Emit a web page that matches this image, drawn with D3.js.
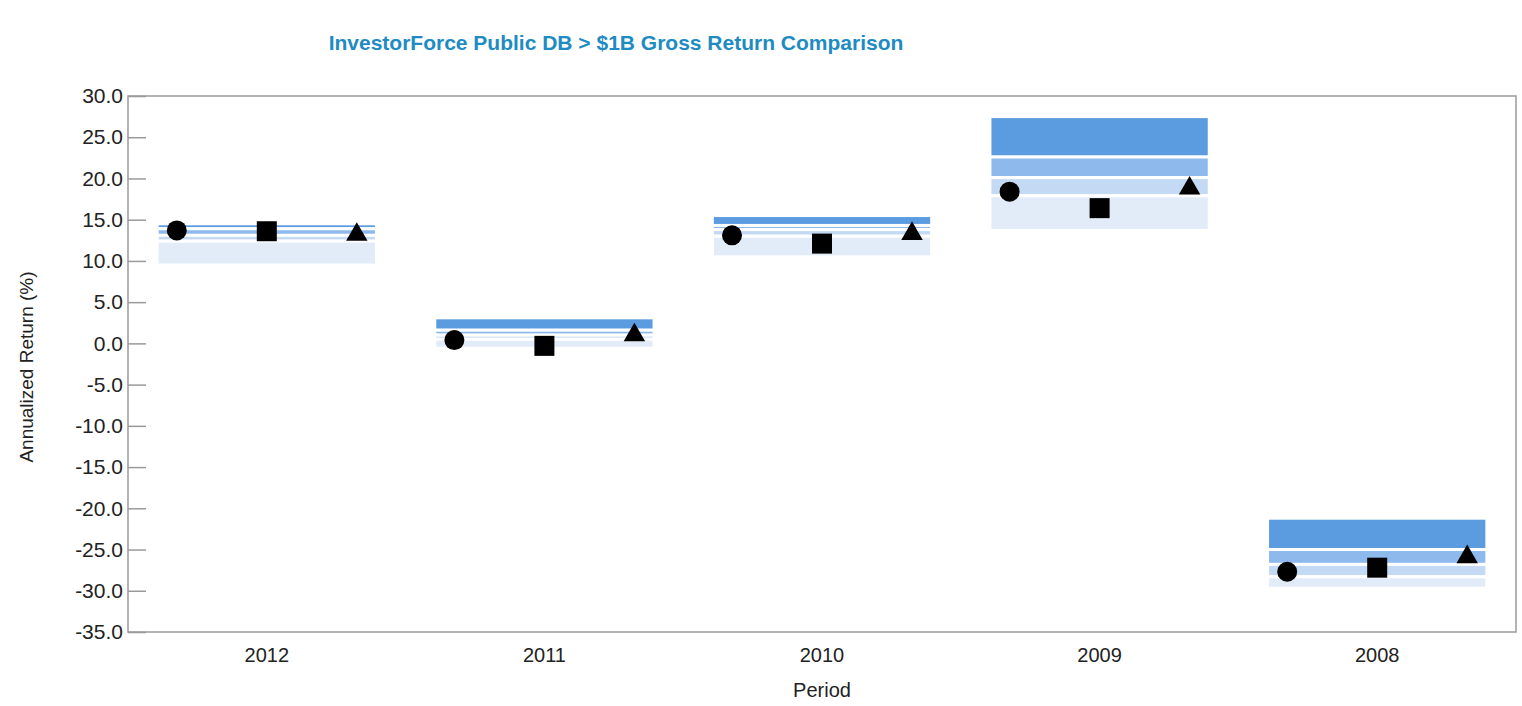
<!DOCTYPE html>
<html><head><meta charset="utf-8">
<script src="https://cdn.jsdelivr.net/npm/d3@7"></script>
<style>
body{margin:0;background:#fff;}
text{font-family:"Liberation Sans",Arial,sans-serif;}
</style></head>
<body><svg id="c" width="1522" height="706"></svg>
<script>
const periods = ["2012","2011","2010","2009","2008"];
const p5  = [14.5, 3.1, 15.5, 27.5, -21.2];
const p25 = [13.9, 1.6, 14.3, 22.6, -25.0];
const p50 = [13.1, 1.0, 13.8, 20.1, -26.8];
const p75 = [12.4, 0.5, 13.0, 17.9, -28.3];
const p95 = [9.5, -0.6, 10.5, 13.7, -29.7];
const circleVals   = [13.7, 0.4, 13.1, 18.4, -27.7];
const squareVals   = [13.6, -0.3, 12.1, 16.4, -27.2];
const triangleVals = [13.2, 1.0, 13.3, 18.8, -25.9];
const yTicks = [30,25,20,15,10,5,0,-5,-10,-15,-20,-25,-30,-35];
const bandColors = ["#5B9BDF","#8DB9EC","#C3D9F4","#E2ECF9"];

const svg = d3.select("#c");
const L=128, R=1516, T=96, B=632;
const x = d3.scaleBand().domain(periods).range([L,R]).paddingInner(0.21).paddingOuter(0.105);
const xc = d3.scaleBand().domain(periods).range([L,R]);
const y = d3.scaleLinear().domain([-35,30]).range([B,T]);
const fmt = v => d3.format(".1f")(v).replace("\u2212","-");

// title
svg.append("text").attr("x",616).attr("y",50).attr("text-anchor","middle")
  .attr("font-size",21).attr("font-weight","bold").attr("fill","#1E8BC3")
  .text("InvestorForce Public DB > $1B Gross Return Comparison");

// frame
svg.append("rect").attr("x",L).attr("y",T).attr("width",R-L).attr("height",B-T)
  .attr("fill","none").attr("stroke","#9a9a9a").attr("stroke-width",1.5);

// y axis
const yAxis = d3.axisLeft(y).tickValues(yTicks).tickFormat(fmt).tickSizeInner(-18).tickSizeOuter(0).tickPadding(5);
const gy = svg.append("g").attr("transform",`translate(${L},0)`).call(yAxis);
gy.select(".domain").remove();
gy.selectAll(".tick line").attr("stroke","#9a9a9a").attr("stroke-width",1.5);
gy.selectAll(".tick text").attr("font-size",21).attr("fill","#222").attr("font-family","'Liberation Sans',Arial,sans-serif");

// x axis
const xAxis = d3.axisBottom(xc).tickSize(0).tickPadding(16);
const gx = svg.append("g").attr("transform",`translate(0,${B})`).call(xAxis);
gx.select(".domain").remove();
gx.selectAll(".tick text").attr("font-size",20).attr("fill","#222").attr("font-family","'Liberation Sans',Arial,sans-serif");

// axis titles
svg.append("text").attr("transform","translate(33,367) rotate(-90)").attr("text-anchor","middle")
  .attr("font-size",19).attr("fill","#222").text("Annualized Return (%)");
svg.append("text").attr("x",822).attr("y",697).attr("text-anchor","middle")
  .attr("font-size",20).attr("fill","#222").text("Period");

// bands
const bands = [];
periods.forEach((p,i)=>{
  const edges=[p5[i],p25[i],p50[i],p75[i],p95[i]];
  for(let k=0;k<4;k++) bands.push({p,hi:edges[k],lo:edges[k+1],k});
});
svg.append("g").selectAll("rect").data(bands).join("rect")
  .attr("x",d=>x(d.p)).attr("width",x.bandwidth())
  .attr("y",d=>y(d.hi)).attr("height",d=>y(d.lo)-y(d.hi))
  .attr("fill",d=>bandColors[d.k]).attr("stroke","#fff").attr("stroke-width",3);

// markers
const off = 90;
const g = svg.append("g");
g.selectAll("circle").data(periods).join("circle")
  .attr("cx",(d)=>xc(d)+xc.bandwidth()/2-off).attr("cy",(d,i)=>y(circleVals[i])).attr("r",10).attr("fill","#000");
g.selectAll("rect.sq").data(periods).join("rect").attr("class","sq")
  .attr("x",(d)=>xc(d)+xc.bandwidth()/2-10).attr("y",(d,i)=>y(squareVals[i])-10).attr("width",20).attr("height",20).attr("fill","#000");
const tri = d3.symbol().type(d3.symbolTriangle).size(200);
g.selectAll("path.tri").data(periods).join("path").attr("class","tri")
  .attr("transform",(d,i)=>`translate(${xc(d)+xc.bandwidth()/2+off},${y(triangleVals[i])})`)
  .attr("d",tri()).attr("fill","#000");
</script></body></html>
